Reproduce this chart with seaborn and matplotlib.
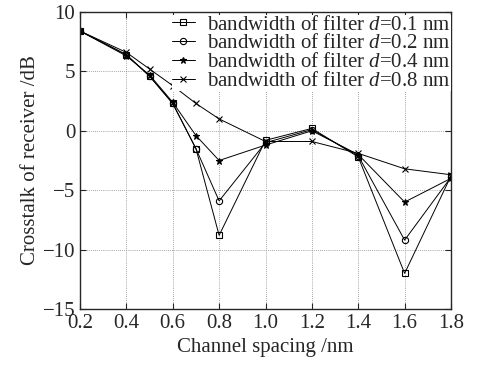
import matplotlib
matplotlib.use("Agg")
import matplotlib.pyplot as plt
import seaborn as sns
import pandas as pd

x = [0.2, 0.4, 0.5, 0.6, 0.7, 0.8, 1.0, 1.2, 1.4, 1.6, 1.8]
d01 = [8.4, 6.4, 4.6, 2.3, -1.5, -8.8, -0.8, 0.2, -2.2, -12.0, -3.8]
d02 = [8.4, 6.4, 4.6, 2.3, -1.5, -5.9, -1.0, 0.1, -2.1, -9.2, -3.9]
d04 = [8.4, 6.3, 4.7, 2.4, -0.4, -2.5, -1.2, 0.0, -2.0, -6.0, -4.0]
d08 = [8.4, 6.6, 5.2, 3.8, 2.3, 1.0, -0.9, -0.9, -1.9, -3.2, -3.7]
labels = [r"bandwidth of filter $d$=0.1 nm", r"bandwidth of filter $d$=0.2 nm",
          r"bandwidth of filter $d$=0.4 nm", r"bandwidth of filter $d$=0.8 nm"]
xticks = [0.2, 0.4, 0.6, 0.8, 1.0, 1.2, 1.4, 1.6, 1.8]
yticks = [-15, -10, -5, 0, 5, 10]

sns.set_style("ticks")
plt.rcParams["font.family"] = ["Liberation Serif", "DejaVu Serif"]
plt.rcParams["mathtext.fontset"] = "custom"
plt.rcParams["mathtext.it"] = "Liberation Serif:italic"
plt.rcParams["mathtext.rm"] = "Liberation Serif"

fig = plt.figure(figsize=(4.81, 3.68), dpi=100)
ax = fig.add_axes([80 / 481, 1 - 309 / 368, (451 - 80) / 481, (309 - 12) / 368])

markers = ["s", "o", "*", "x"]
msizes = [4, 4.5, 4.5, 5]
for series, lab, m, ms in zip([d01, d02, d04, d08], labels, markers, msizes):
    df = pd.DataFrame({"x": x, "y": series})
    fc = "none" if m in ("s", "o") else "black"
    sns.lineplot(data=df, x="x", y="y", ax=ax, color="black", lw=0.7,
                 marker=m, markersize=ms, markerfacecolor=fc,
                 markeredgecolor="black", markeredgewidth=0.8, label=lab,
                 sort=False)

ax.set_xlim(0.2, 1.8)
ax.set_ylim(-15, 10)
ax.set_xticks(xticks)
ax.set_xticklabels([f"{t:.1f}" for t in xticks])
ax.set_yticks(yticks)
ax.grid(True, linestyle=(0, (1, 1.5)), color="#888888", lw=0.6)
ax.tick_params(direction="in", top=True, right=True, length=4, labelsize=15, width=0.8)
for s in ax.spines.values():
    s.set_linewidth(1.0)
ax.set_xlabel("Channel spacing /nm", fontsize=15, labelpad=4)
ax.set_ylabel("Crosstalk of receiver /dB", fontsize=15, labelpad=2)

leg = ax.legend(loc="upper right", bbox_to_anchor=(1.0, 0.99), fontsize=15,
                labelspacing=-0.04, handlelength=1.1, handletextpad=0.6,
                borderpad=0.0, borderaxespad=0.0, frameon=True, fancybox=False,
                edgecolor="none", facecolor="white", framealpha=1)

fig.savefig("out.png", dpi=100)
